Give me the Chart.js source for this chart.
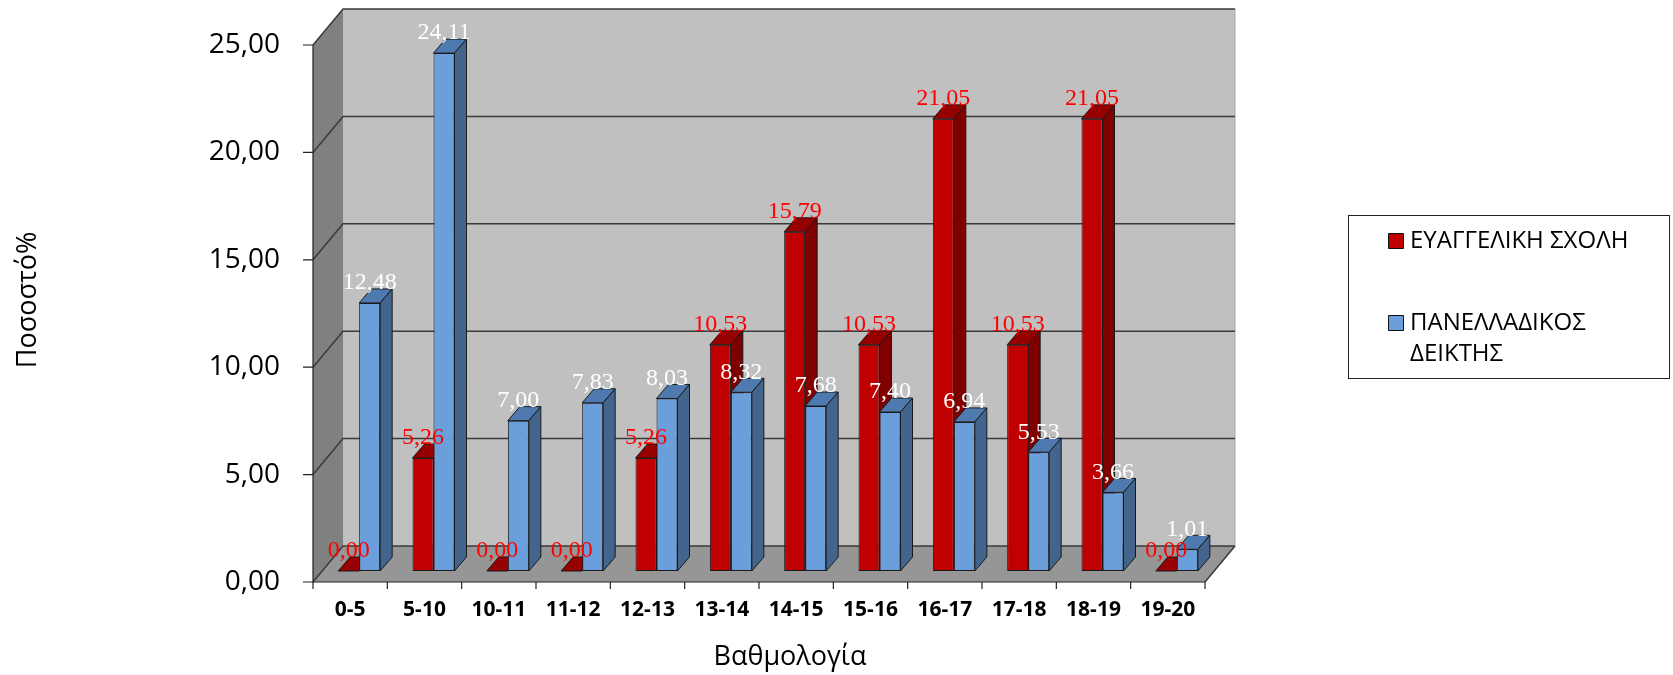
<!DOCTYPE html>
<html>
<head>
<meta charset="utf-8">
<title>Βαθμολογία</title>
<script src="https://cdn.jsdelivr.net/npm/chart.js@4.4.1/dist/chart.umd.min.js"></script>
<style>
  html, body { margin: 0; padding: 0; background: #fff; }
  #wrap { width: 1673px; height: 675px; position: relative; }
</style>
</head>
<body>
<div id="wrap"><canvas id="chart"></canvas></div>
<script>
    const categories = ['0-5', '5-10', '10-11', '11-12', '12-13', '13-14', '14-15', '15-16', '16-17', '17-18', '18-19', '19-20'];
    const schoolValues = [0.00, 5.26, 0.00, 0.00, 5.26, 10.53, 15.79, 10.53, 21.05, 10.53, 21.05, 0.00];
    const nationalValues = [12.48, 24.11, 7.00, 7.83, 8.03, 8.32, 7.68, 7.40, 6.94, 5.53, 3.66, 1.01];
    const yTicks = [0, 5, 10, 15, 20, 25];
    const seriesNames = [['ΕΥΑΓΓΕΛΙΚΗ ΣΧΟΛΗ'], ['ΠΑΝΕΛΛΑΔΙΚΟΣ', 'ΔΕΙΚΤΗΣ']];
    const xTitle = 'Βαθμολογία';
    const yTitle = 'Ποσοστό%';

    // face colours: front, top, side
    const faces = [
        { front: '#C00000', top: '#960000', side: '#7E0000', label: '#FF0000' },
        { front: '#6A9FDB', top: '#4E7AB0', side: '#43658D', label: '#FFFFFF' }
    ];

    // depth of the 3d box, and where the bars sit inside it
    const DX = 30, DY = 36;
    const SHIFT_X = 9, SHIFT_Y = 11;
    const BAR_DX = 12, BAR_DY = 14;

    const fmt = v => v.toFixed(2).replace('.', ',');

    function poly(ctx, pts, fill, stroke) {
        ctx.beginPath();
        pts.forEach(([px, py], i) => i ? ctx.lineTo(px, py) : ctx.moveTo(px, py));
        ctx.closePath();
        if (fill) { ctx.fillStyle = fill; ctx.fill(); }
        if (stroke) { ctx.strokeStyle = stroke; ctx.stroke(); }
    }

    const box3d = {
        id: 'box3d',
        beforeDatasetsDraw(chart) {
            const { ctx, chartArea: a, scales: { x, y } } = chart;
            const L = a.left, R = a.right, B = a.bottom, T = y.getPixelForValue(25);
            ctx.save();
            // walls and floor
            ctx.fillStyle = '#C0C0C0';
            ctx.fillRect(L + DX, T - DY, R - L, B - T);
            poly(ctx, [[L, B], [L, T], [L + DX, T - DY], [L + DX, B - DY]], '#808080');
            poly(ctx, [[L, B], [L + DX, B - DY], [R + DX, B - DY], [R, B]], '#969696');
            ctx.lineWidth = 1;
            ctx.strokeStyle = '#A6A6A6';
            ctx.beginPath();
            ctx.moveTo(R + DX, T - DY); ctx.lineTo(R + DX, B - DY);
            ctx.stroke();
            // grid lines on side and back walls
            ctx.strokeStyle = '#3A3A3A';
            ctx.lineWidth = 1.5;
            yTicks.forEach(v => {
                const py = y.getPixelForValue(v);
                ctx.beginPath();
                ctx.moveTo(L, py); ctx.lineTo(L + DX, py - DY); ctx.lineTo(R + DX, py - DY);
                ctx.stroke();
            });
            ctx.beginPath();
            ctx.moveTo(R + DX, B - DY); ctx.lineTo(R, B);
            ctx.stroke();

            // axes
            ctx.lineWidth = 1.2;
            ctx.strokeStyle = '#222';
            ctx.beginPath();
            ctx.moveTo(L, T); ctx.lineTo(L, B); ctx.lineTo(R, B);
            yTicks.forEach(v => {
                const py = y.getPixelForValue(v);
                ctx.moveTo(L - 10, py); ctx.lineTo(L, py);
            });
            const step = (R - L) / categories.length;
            for (let i = 0; i <= categories.length; i++) {
                ctx.moveTo(L + i * step, B); ctx.lineTo(L + i * step, B + 7);
            }
            ctx.stroke();

            // tick labels
            ctx.fillStyle = '#000';
            ctx.font = '28px "Open Sans"';
            ctx.textAlign = 'right';
            ctx.textBaseline = 'middle';
            yTicks.forEach(v => ctx.fillText(fmt(v), L - 33, y.getPixelForValue(v)));
            ctx.font = 'bold 21px "Open Sans"';
            ctx.textAlign = 'center';
            categories.forEach((c, i) => ctx.fillText(c, x.getPixelForValue(i), B + 28));

            // axis titles
            ctx.font = '27px "Open Sans"';
            ctx.fillText(xTitle, (L + R) / 2 + 31, B + 75);
            ctx.translate(28, 300);
            ctx.rotate(-Math.PI / 2);
            ctx.fillText(yTitle, 0, 0);
            ctx.restore();
        },
        // bars are drawn below in our own order, so blue covers red's side face
        beforeDatasetDraw() {
            return false;
        },
        afterDatasetsDraw(chart) {
            const ctx = chart.ctx;
            ctx.save();
            ctx.translate(SHIFT_X, -SHIFT_Y);
            const metas = [chart.getDatasetMeta(0), chart.getDatasetMeta(1)];
            for (let i = 0; i < categories.length; i++) {
                metas.forEach((meta, d) => {
                    const el = meta.data[i];
                    const f = faces[d];
                    el.draw(ctx);
                    const left = el.x - el.width / 2, right = el.x + el.width / 2;
                    ctx.lineWidth = 1;
                    poly(ctx, [[left, el.y], [left + BAR_DX, el.y - BAR_DY], [right + BAR_DX, el.y - BAR_DY], [right, el.y]], f.top, '#1A1A1A');
                    poly(ctx, [[right, el.y], [right + BAR_DX, el.y - BAR_DY], [right + BAR_DX, el.base - BAR_DY], [right, el.base]], f.side, '#1A1A1A');
                });
            }
            // value labels, blue first so red sits on top
            ctx.font = '24px "Liberation Serif"';
            ctx.textAlign = 'center';
            ctx.textBaseline = 'middle';
            [1, 0].forEach(d => {
                const values = chart.data.datasets[d].data;
                ctx.fillStyle = faces[d].label;
                metas[d].data.forEach((el, i) => ctx.fillText(fmt(values[i]), el.x, el.y - 20));
            });
            ctx.restore();
        },
        afterDraw(chart) {
            const ctx = chart.ctx;
            ctx.save();
            ctx.lineWidth = 1;
            ctx.strokeStyle = '#222';
            ctx.strokeRect(1348.5, 215.5, 321, 163);
            ctx.font = '24px "Open Sans"';
            ctx.textAlign = 'left';
            ctx.textBaseline = 'middle';
            const rows = [233, 315];
            seriesNames.forEach((lines, d) => {
                poly(ctx, [[1388.5, rows[d] + 0.5], [1403.5, rows[d] + 0.5], [1403.5, rows[d] + 15.5], [1388.5, rows[d] + 15.5]], faces[d].front, '#111');
                ctx.fillStyle = '#000';
                lines.forEach((t, k) => ctx.fillText(t, 1410, rows[d] + 8 + k * 31));
            });
            ctx.restore();
        }
    };

    new Chart(document.getElementById('chart'), {
        type: 'bar',
        data: {
            labels: categories,
            datasets: [
                { label: seriesNames[0].join(' '), data: schoolValues, backgroundColor: faces[0].front },
                { label: seriesNames[1].join(' '), data: nationalValues, backgroundColor: faces[1].front }
            ]
        },
        options: {
            responsive: true,
            maintainAspectRatio: false,
            devicePixelRatio: 1,
            animation: false,
            layout: { padding: { left: 313, right: 468, top: 45, bottom: 93 } },
            datasets: {
                bar: {
                    categoryPercentage: 0.565,
                    barPercentage: 1,
                    borderWidth: 1,
                    borderColor: '#1A1A1A',
                    borderSkipped: false
                }
            },
            scales: {
                x: { display: false },
                y: { display: false, min: 0, max: 25 }
            },
            plugins: {
                legend: { display: false },
                tooltip: { enabled: false }
            }
        },
        plugins: [box3d]
    });
</script>
</body>
</html>
